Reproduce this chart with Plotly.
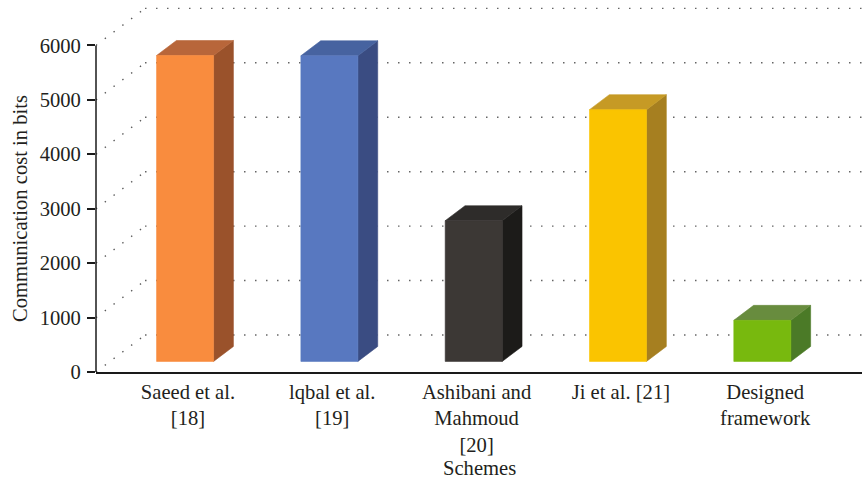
import plotly.graph_objects as go

# ---- data ----
schemes = [
    "Saeed et al.<br>[18]",
    "lqbal et al.<br>[19]",
    "Ashibani and<br>Mahmoud<br>[20]",
    "Ji et al. [21]",
    "Designed<br>framework",
]
costs = [5620, 5615, 2585, 4625, 755]
y_ticks = [0, 1000, 2000, 3000, 4000, 5000, 6000]

front_colors = ["#F98C3E", "#5878C0", "#3C3835", "#FAC400", "#78B90E"]
top_colors = ["#B8663A", "#4763A0", "#2E2C2A", "#C69A25", "#688C3E"]
side_colors = ["#9A522B", "#3A4C82", "#1C1B19", "#A67F20", "#4B7A27"]

# ---- oblique 3D geometry (in data units) ----
DEPTH_X = 0.34      # horizontal shift of the back wall, category units
DEPTH_Y = 680       # vertical shift of the back wall, value units
BAR_FRONT = 0.286   # depth fraction of bar front faces
BAR_BACK = 0.69     # depth fraction of bar back faces
HALF_W = 0.1975     # half bar width
SHIFT = 0.02
X_RANGE = [-0.5, 4.808]
Y_RANGE = [0, 6834]
FONT = "Liberation Serif, Times New Roman, serif"
FSIZE = 20.6
TEXT = "#231f20"


def proj(x, v, d):
    return x + d * DEPTH_X, v + d * DEPTH_Y


fig = go.Figure()

grid_style = dict(color="#5a5a5a", width=1.4, dash="1.4px,9.6px")

# dotted gridlines on side wall and back wall
for v in y_ticks:
    x0, y0 = proj(X_RANGE[0], v, 0)
    x1, y1 = proj(X_RANGE[0], v, 1)
    fig.add_trace(go.Scatter(x=[x0, x1], y=[y0, y1], mode="lines",
                             line=grid_style, hoverinfo="skip", showlegend=False))
    fig.add_trace(go.Scatter(x=[x1, X_RANGE[1]], y=[y1, y1], mode="lines",
                             line=grid_style, hoverinfo="skip", showlegend=False))


def face(pts, color):
    xs = [p[0] for p in pts] + [pts[0][0]]
    ys = [p[1] for p in pts] + [pts[0][1]]
    fig.add_trace(go.Scatter(x=xs, y=ys, mode="lines", fill="toself",
                             fillcolor=color, line=dict(color=color, width=0.6),
                             hoverinfo="skip", showlegend=False))


label_pos = []
for i, val in enumerate(costs):
    cx = i + SHIFT
    xl, xr = cx - HALF_W, cx + HALF_W
    fbl = proj(xl, 0, BAR_FRONT)
    fbr = proj(xr, 0, BAR_FRONT)
    ftl = proj(xl, val, BAR_FRONT)
    ftr = proj(xr, val, BAR_FRONT)
    btl = proj(xl, val, BAR_BACK)
    btr = proj(xr, val, BAR_BACK)
    bbr = proj(xr, 0, BAR_BACK)
    face([ftr, btr, bbr, fbr], side_colors[i])     # right side
    face([ftl, ftr, btr, btl], top_colors[i])      # top
    face([fbl, fbr, ftr, ftl], front_colors[i])    # front
    label_pos.append(proj(cx, 0, BAR_FRONT)[0] + 0.02)

# front value axis line (0 .. 6000)
fig.add_shape(type="line", xref="paper", yref="y", x0=0, x1=0,
              y0=0, y1=6000, line=dict(color="#1a1a1a", width=1.5))

fig.add_annotation(text="Communication cost in bits", textangle=-90,
                   xref="paper", yref="y", x=-0.1, y=3000,
                   xanchor="center", yanchor="middle", showarrow=False,
                   font=dict(family=FONT, size=FSIZE, color=TEXT))
fig.add_annotation(text="Schemes", xref="paper", yref="paper",
                   x=0.5, y=-0.257, xanchor="center", yanchor="middle",
                   showarrow=False, font=dict(family=FONT, size=FSIZE, color=TEXT))

fig.update_layout(
    width=862, height=481,
    margin=dict(l=96, r=0, t=0, b=109),
    paper_bgcolor="white", plot_bgcolor="white",
    font=dict(family=FONT, size=FSIZE, color=TEXT),
    xaxis=dict(range=X_RANGE, tickmode="array", tickvals=label_pos,
               ticktext=schemes, showgrid=False, zeroline=False,
               showline=True, linecolor="#1a1a1a", linewidth=1.8,
               ticks="", fixedrange=True),
    yaxis=dict(range=Y_RANGE, tickmode="array", tickvals=y_ticks,
               ticktext=[str(t) for t in y_ticks], showgrid=False,
               zeroline=False, showline=False, ticks="outside",
               ticklen=8, tickwidth=1.5, tickcolor="#1a1a1a",
               ticklabelstandoff=2, fixedrange=True),
)

fig.write_html("out.html")
